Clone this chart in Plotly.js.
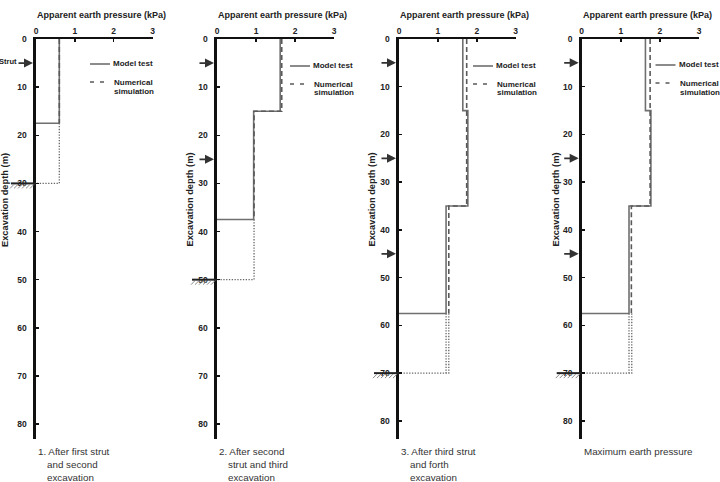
<!DOCTYPE html>
<html>
<head>
<meta charset="utf-8">
<script src="https://cdn.plot.ly/plotly-3.0.1.min.js"></script>
<style>
  html, body { margin: 0; padding: 0; background: #fff; }
  #chart { width: 720px; height: 482px; }
</style>
</head>
<body>
<div id="chart"></div>
<script>
// ---- data: apparent earth pressure (kPa) against excavation depth (m) ----
const pressureTicks = [0, 1, 2, 3];
const depthTicks = [0, 10, 20, 30, 40, 50, 60, 70, 80];

// stage 1: after first strut and second excavation
const s1ModelP = [0.6, 0.6, 0];
const s1ModelD = [0, 17.5, 17.5];
const s1NumP = [0.6, 0.6];
const s1NumD = [0, 17.5];
const s1ExtP = [0.6, 0.6, 0];
const s1ExtD = [17.5, 30, 30];

// stage 2: after second strut and third excavation
const s2ModelP = [1.62, 1.62, 0.94, 0.94, 0];
const s2ModelD = [0, 15, 15, 37.5, 37.5];
const s2NumP = [1.66, 1.66, 0.95, 0.95];
const s2NumD = [0, 15, 15, 37.5];
const s2ExtP = [0.95, 0.95, 0];
const s2ExtD = [37.5, 50, 50];

// stage 3: after third strut and fourth excavation
const s3ModelP = [1.64, 1.64, 1.77, 1.77, 1.21, 1.21, 0];
const s3ModelD = [0, 15, 15, 35, 35, 57.5, 57.5];
const s3NumP = [1.74, 1.74, 1.28, 1.28];
const s3NumD = [0, 35, 35, 57.5];
const s3ModelExtP = [1.21, 1.21];
const s3ModelExtD = [57.5, 70];
const s3NumExtP = [1.28, 1.28, 0];
const s3NumExtD = [57.5, 70, 70];

// maximum earth pressure envelope
const s4ModelP = [1.63, 1.63, 1.77, 1.77, 1.21, 1.21, 0];
const s4ModelD = [0, 15, 15, 35, 35, 57.5, 57.5];
const s4NumP = [1.75, 1.75, 1.27, 1.27];
const s4NumD = [0, 35, 35, 57.5];
const s4ModelExtP = [1.21, 1.21];
const s4ModelExtD = [57.5, 70];
const s4NumExtP = [1.28, 1.28, 0];
const s4NumExtD = [57.5, 70, 70];

const strutDepths = [[5], [5, 25], [5, 25, 45], [5, 25, 45]];
const excavationDepths = [30, 50, 70, 70];

const captions = [
  ["1. After first strut", "and second", "excavation"],
  ["2. After second", "strut and third", "excavation"],
  ["3. After third strut", "and forth", "excavation"],
  ["Maximum earth pressure"]
];
const xTitle = "Apparent earth pressure (kPa)";
const yTitle = "Excavation depth (m)";
const legendModel = "Model test";
const legendNum = ["Numerical", "simulation"];

// ---- layout geometry (pixels) ----
const W = 720, H = 482;
const axisLeft = [36, 217, 399, 581.7];
const axisRight = [152.5, 334, 515.7, 699];
const plotTop = 39, plotBottom = 439;
const depthMax = [83.1, 83.1, 83.8, 83.8];
const legendX = [90, 290, 473, 655.5];
const legendY = [64, 66, 66, 65];
const yTitleX = [5, 189.5, 371.5, 555.5];

const px = v => v / W;
const py = v => 1 - v / H;

const FONT = "Liberation Sans, Arial, sans-serif";
const solidColor = "#6f6f6f";
const dashColor = "#5a5a5a";
const dotColor = "#666666";

const panels = [
  { model: [s1ModelP, s1ModelD], num: [s1NumP, s1NumD], ext: [[s1ExtP, s1ExtD]] },
  { model: [s2ModelP, s2ModelD], num: [s2NumP, s2NumD], ext: [[s2ExtP, s2ExtD]] },
  { model: [s3ModelP, s3ModelD], num: [s3NumP, s3NumD], ext: [[s3ModelExtP, s3ModelExtD], [s3NumExtP, s3NumExtD]] },
  { model: [s4ModelP, s4ModelD], num: [s4NumP, s4NumD], ext: [[s4ModelExtP, s4ModelExtD], [s4NumExtP, s4NumExtD]] }
];

const traces = [];
const layout = {
  width: W, height: H,
  margin: { l: 0, r: 0, t: 0, b: 0 },
  paper_bgcolor: "#fff", plot_bgcolor: "#fff",
  showlegend: false,
  shapes: [], annotations: []
};

panels.forEach((p, i) => {
  const n = i + 1;
  const xa = "x" + (n === 1 ? "" : n);
  const ya = "y" + (n === 1 ? "" : n);

  p.ext.forEach(e => traces.push({
    x: e[0], y: e[1], xaxis: xa, yaxis: ya, mode: "lines", hoverinfo: "skip",
    line: { color: dotColor, width: 1.3, dash: "1.3px,1.5px" }
  }));
  traces.push({
    x: p.model[0], y: p.model[1], xaxis: xa, yaxis: ya, mode: "lines", name: legendModel,
    line: { color: solidColor, width: 1.6 }
  });
  traces.push({
    x: p.num[0], y: p.num[1], xaxis: xa, yaxis: ya, mode: "lines", name: legendNum.join(" "),
    line: { color: dashColor, width: 1.6, dash: "5px,3px" }
  });

  layout["xaxis" + (n === 1 ? "" : n)] = {
    domain: [px(axisLeft[i]), px(axisRight[i])],
    anchor: ya, side: "top", range: [0, 3],
    tickvals: pressureTicks, ticks: "inside", ticklen: 3, tickwidth: 1.5, tickcolor: "#111",
    showline: true, linecolor: "#111", linewidth: 2,
    showgrid: false, zeroline: false, fixedrange: true,
    tickfont: { family: FONT, size: 8.5, color: "#222", weight: "bold" }
  };
  layout["yaxis" + (n === 1 ? "" : n)] = {
    domain: [py(plotBottom), py(plotTop)],
    anchor: xa, range: [depthMax[i], 0],
    tickvals: depthTicks, ticks: "inside", ticklen: 3, tickwidth: 1.5, tickcolor: "#111",
    showline: true, linecolor: "#111", linewidth: 2.6,
    showgrid: false, zeroline: false, fixedrange: true, ticklabelstandoff: 5,
    tickfont: { family: FONT, size: 8.5, color: "#222", weight: "bold" }
  };

  // axis titles
  layout.annotations.push({
    xref: "paper", yref: "paper", x: px(axisLeft[i] - 1), y: py(15),
    xanchor: "left", yanchor: "middle", showarrow: false, text: xTitle,
    font: { family: FONT, size: 9, color: "#222", weight: "bold" }
  });
  layout.annotations.push({
    xref: "paper", yref: "paper", x: px(yTitleX[i]), y: py(200),
    xanchor: "center", yanchor: "middle", showarrow: false, text: yTitle, textangle: -90,
    font: { family: FONT, size: 9.3, color: "#222", weight: "bold" }
  });

  // strut arrows
  strutDepths[i].forEach(d => layout.annotations.push({
    xref: xa, yref: ya, x: 0, y: d, ax: -19, ay: 0, text: "",
    showarrow: true, arrowhead: 2, arrowsize: 1, arrowwidth: 1.8,
    arrowcolor: "#333", standoff: 3
  }));

  // excavation level with ground hatching (left of the depth axis)
  const ex = excavationDepths[i];
  const a0 = axisLeft[i];
  layout.shapes.push({
    type: "line", xref: "paper", yref: ya,
    x0: px(a0 - 25), x1: px(a0), y0: ex, y1: ex, line: { color: "#222", width: 2 }
  });
  let hatch = "";
  for (let k = 0; k < 6; k++) {
    const hx = a0 - 26 + k * 4;
    hatch += `M${px(hx).toFixed(5)},-5 L${px(hx + 4).toFixed(5)},-1 `;
  }
  layout.shapes.push({
    type: "path", xref: "paper", yref: ya, ysizemode: "pixel", yanchor: ex,
    path: hatch.trim(), line: { color: "#888", width: 1 }
  });

  // legend
  const lx = legendX[i], ly = legendY[i];
  layout.shapes.push({
    type: "line", xref: "paper", yref: "paper",
    x0: px(lx), x1: px(lx + 20), y0: py(ly), y1: py(ly),
    line: { color: solidColor, width: 1.6 }
  });
  layout.shapes.push({
    type: "line", xref: "paper", yref: "paper",
    x0: px(lx), x1: px(lx + 17), y0: py(ly + 18), y1: py(ly + 18),
    line: { color: dashColor, width: 1.6, dash: "4px,6px" }
  });
  const lf = { family: FONT, size: 8, color: "#222", weight: "bold" };
  layout.annotations.push({
    xref: "paper", yref: "paper", x: px(lx + 21), y: py(ly), xanchor: "left", yanchor: "middle",
    showarrow: false, text: legendModel, font: lf
  });
  layout.annotations.push({
    xref: "paper", yref: "paper", x: px(lx + 22), y: py(ly + 18), xanchor: "left", yanchor: "middle",
    showarrow: false, text: legendNum[0], font: lf
  });
  layout.annotations.push({
    xref: "paper", yref: "paper", x: px(lx + 22), y: py(ly + 27), xanchor: "left", yanchor: "middle",
    showarrow: false, text: legendNum[1], font: lf
  });

  // stage captions
  captions[i].forEach((t, k) => layout.annotations.push({
    xref: "paper", yref: "paper", x: px(axisLeft[i] + (k === 0 ? 0 : 9)), y: py(451 + k * 13),
    xanchor: "left", yanchor: "middle", showarrow: false, text: t,
    font: { family: FONT, size: 9.8, color: "#333" }
  }));
});

// label of the first strut
layout.annotations.push({
  xref: "paper", yref: "paper", x: px(18.5), y: py(61), xanchor: "right", yanchor: "middle",
  showarrow: false, text: "Strut", font: { family: FONT, size: 7.5, color: "#222", weight: "bold" }
});

Plotly.newPlot("chart", traces, layout, { staticPlot: true, displayModeBar: false });
</script>
</body>
</html>
